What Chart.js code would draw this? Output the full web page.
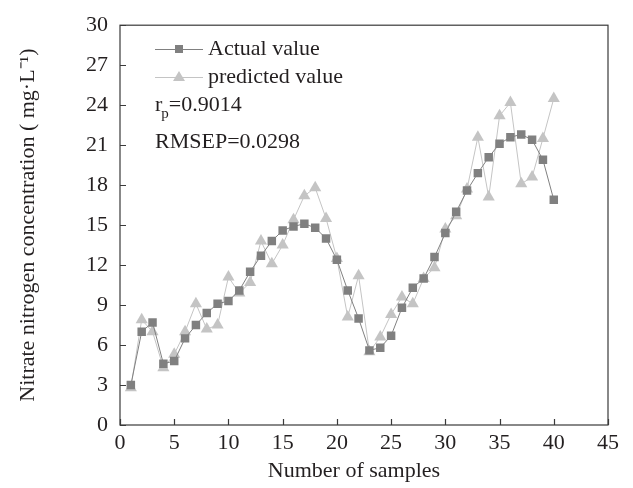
<!DOCTYPE html>
<html><head><meta charset="utf-8">
<script src="https://cdn.jsdelivr.net/npm/chart.js@4.4.0/dist/chart.umd.min.js"></script>
<style>html,body{margin:0;background:#fff}#wrap{width:633px;height:488px}</style>
</head><body><div id="wrap"><canvas id="c"></canvas></div>
<script>
// sample index and measured / predicted nitrate nitrogen (mg/L)
const samples = [1,2,3,4,5,6,7,8,9,10,11,12,13,14,15,16,17,18,19,20,21,22,23,24,25,26,27,28,29,30,31,32,33,34,35,36,37,38,39,40];
const actual = [3.0,7.0,7.7,4.6,4.8,6.5,7.5,8.4,9.1,9.3,10.1,11.5,12.7,13.8,14.6,14.9,15.1,14.8,14.0,12.4,10.1,8.0,5.6,5.8,6.7,8.8,10.3,11.0,12.6,14.4,16.0,17.6,18.9,20.1,21.1,21.6,21.8,21.4,19.9,16.9];
const predicted = [2.8,7.9,7.0,4.3,5.3,7.0,9.1,7.2,7.5,11.1,9.9,10.7,13.8,12.1,13.5,15.4,17.2,17.8,15.5,12.5,8.1,11.2,5.5,6.6,8.3,9.6,9.1,11.0,11.8,14.7,15.7,17.7,21.6,17.1,23.2,24.2,18.1,18.6,21.5,24.5];
const xTicks = [0,5,10,15,20,25,30,35,40,45];
const yTicks = [0,3,6,9,12,15,18,21,24,27,30];

const FONT = "'Liberation Serif','Times New Roman',serif";
const TXT = '#231f20';
const C_ACT = '#808080', C_PRED = '#c4c4c4';

const toXY = vals => samples.map((s, i) => ({ x: s, y: vals[i] }));

// frame, inward tick marks, legend, stats text and x title
const decor = {
  id: 'decor',
  afterDraw(chart) {
    const { ctx, chartArea: a, scales: { x, y } } = chart;
    ctx.save();
    ctx.strokeStyle = '#3a3a3a';
    ctx.lineWidth = 1.2;
    ctx.strokeRect(a.left, a.top, a.right - a.left, a.bottom - a.top);
    ctx.beginPath();
    xTicks.forEach(v => { const px = Math.round(x.getPixelForValue(v)) + 0.5; ctx.moveTo(px, a.bottom); ctx.lineTo(px, a.bottom - 6); });
    yTicks.forEach(v => { const py = Math.round(y.getPixelForValue(v)) + 0.5; ctx.moveTo(a.left, py); ctx.lineTo(a.left + 6, py); });
    ctx.stroke();

    // legend
    const lx = a.left + 35, mx = lx + 24, ex = lx + 48;
    ctx.lineWidth = 1;
    ctx.strokeStyle = C_ACT;
    ctx.beginPath(); ctx.moveTo(lx, 49.5); ctx.lineTo(ex, 49.5); ctx.stroke();
    ctx.fillStyle = C_ACT; ctx.fillRect(mx - 4, 45, 8, 8);
    ctx.strokeStyle = C_PRED; ctx.fillStyle = C_PRED;
    ctx.beginPath(); ctx.moveTo(lx, 77.5); ctx.lineTo(ex, 77.5); ctx.stroke();
    ctx.beginPath(); ctx.moveTo(mx, 71); ctx.lineTo(mx + 6, 81); ctx.lineTo(mx - 6, 81); ctx.closePath(); ctx.fill();

    ctx.fillStyle = TXT;
    ctx.textBaseline = 'middle';
    ctx.font = '22px ' + FONT;
    ctx.fillText('Actual value', ex + 5, 49);
    ctx.fillText('predicted value', ex + 5, 77);
    ctx.fillText('r', lx, 105);
    const rw = ctx.measureText('r').width;
    ctx.font = '15px ' + FONT;
    ctx.fillText('p', lx + rw - 1, 114);
    const pw = ctx.measureText('p').width;
    ctx.font = '22px ' + FONT;
    ctx.fillText('=0.9014', lx + rw + pw - 1, 105);
    ctx.fillText('RMSEP=0.0298', lx, 142);

    ctx.textAlign = 'center';
    ctx.textBaseline = 'alphabetic';
    ctx.fillText('Number of samples', 354, 477);
    ctx.restore();
  }
};

new Chart(document.getElementById('c'), {
  type: 'line',
  data: {
    datasets: [
      { label: 'Actual value', data: toXY(actual), borderColor: C_ACT, backgroundColor: C_ACT,
        borderWidth: 1, pointStyle: 'rect', pointRadius: 6, pointBorderWidth: 0, tension: 0 },
      { label: 'predicted value', data: toXY(predicted), borderColor: C_PRED, backgroundColor: C_PRED,
        borderWidth: 1, pointStyle: 'triangle', pointRadius: 7, pointBorderWidth: 0, tension: 0 }
    ]
  },
  options: {
    responsive: true, maintainAspectRatio: false, animation: false,
    layout: { padding: { top: 17, right: 25, bottom: 0, left: 0 } },
    plugins: { legend: { display: false }, tooltip: { enabled: false } },
    scales: {
      x: {
        type: 'linear', min: 0, max: 45,
        afterBuildTicks: s => { s.ticks = xTicks.map(v => ({ value: v })); },
        afterFit: s => { s.height = 63; },
        grid: { display: false, drawTicks: false }, border: { display: false },
        ticks: { color: TXT, padding: 5, font: { family: FONT, size: 22 }, maxRotation: 0 }
      },
      y: {
        min: 0, max: 30,
        afterBuildTicks: s => { s.ticks = yTicks.map(v => ({ value: v })); },
        afterFit: s => { s.width = 120; },
        grid: { display: false, drawTicks: false }, border: { display: false },
        ticks: { color: TXT, padding: 12, font: { family: FONT, size: 22 } },
        title: { display: true, text: 'Nitrate nitrogen concentration ( mg·L⁻¹)', color: TXT, font: { family: FONT, size: 22 }, padding: { top: 15, bottom: 0 } }
      }
    }
  },
  plugins: [decor]
});
</script>
</body></html>
